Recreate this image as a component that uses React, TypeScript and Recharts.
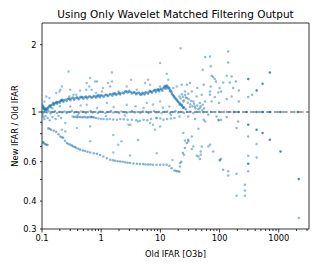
import React from 'react';
import { ScatterChart, Scatter, XAxis, YAxis, ReferenceLine, ReferenceArea } from 'recharts';

type P = [number, number];

const upperBand: P[] = [
  [0.101, 1.08], [0.102, 1.06], [0.104, 1.05], [0.106, 1.04], [0.108, 1.035], [0.11, 1.03], [0.113, 1.025],
  [0.116, 1.02], [0.12, 1.03], [0.124, 1.04], [0.128, 1.05], [0.133, 1.06], [0.138, 1.065], [0.144, 1.075],
  [0.15, 1.08], [0.157, 1.09], [0.165, 1.095], [0.173, 1.1], [0.182, 1.105], [0.19, 1.11], [0.2, 1.115],
  [0.21, 1.12], [0.22, 1.125], [0.235, 1.13], [0.25, 1.135], [0.27, 1.14], [0.29, 1.145], [0.31, 1.147],
  [0.34, 1.15], [0.37, 1.152], [0.4, 1.155], [0.44, 1.158], [0.48, 1.16], [0.52, 1.163], [0.56, 1.165],
  [0.61, 1.167], [0.67, 1.168], [0.73, 1.17], [0.8, 1.172], [0.88, 1.175], [0.96, 1.178], [1.05, 1.182],
  [1.15, 1.186], [1.26, 1.19], [1.38, 1.195], [1.5, 1.198], [1.65, 1.2], [1.8, 1.204], [1.95, 1.208],
  [2.1, 1.212], [2.3, 1.22], [2.5, 1.23], [2.7, 1.236], [2.95, 1.232], [3.2, 1.225], [3.5, 1.22],
  [3.8, 1.216], [4.1, 1.213], [4.5, 1.21], [4.9, 1.207], [5.3, 1.21], [5.8, 1.218], [6.3, 1.225],
  [6.9, 1.233], [7.5, 1.24], [8.2, 1.247], [8.9, 1.25], [9.6, 1.255], [10.4, 1.262], [11.2, 1.275],
  [12, 1.29], [12.8, 1.3], [13.5, 1.29], [14.2, 1.27], [14.8, 1.25], [15.5, 1.22], [16.3, 1.19],
  [17, 1.17], [18, 1.15], [19, 1.13], [20, 1.11], [21.5, 1.09], [23, 1.07], [25, 1.05], [27, 1.03],
];

const bandInner: P[] = [
  [0.105, 1.06], [0.112, 1.04], [0.125, 1.025], [0.14, 1.05], [0.16, 1.075], [0.18, 1.09], [0.2, 1.1],
  [0.23, 1.11], [0.26, 1.12], [0.3, 1.13], [0.35, 1.135], [0.42, 1.14], [0.5, 1.145], [0.58, 1.15],
  [0.7, 1.155], [0.82, 1.158], [0.95, 1.162], [1.1, 1.168], [1.3, 1.175], [1.55, 1.182], [1.8, 1.19],
  [2.1, 1.197], [2.4, 1.21], [2.8, 1.218], [3.3, 1.21], [3.9, 1.2], [4.6, 1.195], [5.4, 1.197],
  [6.2, 1.208], [7.2, 1.218], [8.4, 1.23], [9.5, 1.238], [10.8, 1.245], [12.2, 1.27], [13.2, 1.275],
  [14.5, 1.24], [15.8, 1.2], [17.5, 1.16], [19.5, 1.12], [22, 1.08], [24.5, 1.045],
  [0.22, 1.135], [0.45, 1.17], [0.9, 1.19], [1.7, 1.215], [3.0, 1.245], [6.6, 1.245], [9, 1.265],
  [11.8, 1.31], [13, 1.315],
];

const bandOuter: P[] = [
  [0.118, 1.035], [0.135, 1.07], [0.155, 1.1], [0.175, 1.11], [0.21, 1.13], [0.28, 1.15], [0.33, 1.16],
  [0.39, 1.163], [0.47, 1.168], [0.55, 1.172], [0.64, 1.176], [0.76, 1.18], [0.86, 1.183], [1.0, 1.188],
  [1.2, 1.195], [1.42, 1.203], [1.6, 1.21], [2.0, 1.22], [2.6, 1.24], [3.6, 1.228], [4.3, 1.222],
  [5.0, 1.218], [5.6, 1.225], [6.8, 1.238], [7.9, 1.252], [9.3, 1.262], [10.2, 1.272], [11.5, 1.29],
  [12.5, 1.305], [14, 1.285], [15.2, 1.235], [16.8, 1.18], [18.6, 1.14], [20.8, 1.1], [23.5, 1.06],
];

const unityRow: P[] = [
  [0.1, 1.0], [0.105, 0.99], [0.11, 1.01], [0.12, 0.995], [0.13, 1.005], [0.14, 0.985], [0.15, 1.0],
  [0.165, 1.01], [0.18, 0.99], [0.2, 1.0], [0.22, 0.995], [0.24, 1.005], [0.26, 0.99], [0.29, 1.0],
  [0.32, 1.01], [0.35, 0.995], [0.38, 1.0], [0.42, 0.99], [0.46, 1.005], [0.5, 1.0], [0.55, 0.99],
  [0.6, 1.0], [0.66, 1.01], [0.72, 0.995], [0.8, 1.0], [0.88, 0.99], [0.97, 1.005], [1.07, 1.0],
  [1.18, 0.99], [1.3, 1.0], [1.45, 1.01], [1.6, 0.995], [1.8, 1.0], [2.0, 0.99], [2.2, 1.005],
  [2.45, 1.0], [2.7, 0.99], [3.0, 1.0], [3.3, 1.01], [3.7, 0.995], [4.1, 1.0], [4.6, 0.99],
  [5.1, 1.005], [5.7, 1.0], [6.3, 0.99], [7.0, 1.0], [7.8, 1.01], [8.6, 0.995], [9.5, 1.0],
  [10.5, 0.99], [11.7, 1.0], [13, 1.005], [14.5, 0.99], [16, 1.0], [18, 1.01], [20, 0.995], [22, 1.0],
  [25, 0.99], [28, 1.0], [32, 1.005], [36, 0.99], [41, 1.0], [47, 1.0], [54, 1.0], [62, 1.0],
  [72, 1.0], [85, 1.0], [100, 1.0], [120, 1.0], [145, 1.0],
];

const unityDark: P[] = [
  [175, 1.0], [210, 1.0], [285, 1.0], [423, 1.0], [540, 1.0], [708, 1.0], [1072, 1.0], [2100, 1.0],
];

const lowerStrip: P[] = [
  [0.33, 0.955], [0.35, 0.95], [0.37, 0.952], [0.39, 0.948], [0.41, 0.95], [0.44, 0.95], [0.47, 0.948],
  [0.5, 0.947], [0.53, 0.95], [0.57, 0.946], [0.6, 0.948], [0.64, 0.95], [0.68, 0.95], [0.72, 0.948],
  [0.76, 0.945], [0.82, 0.94], [0.9, 0.935], [1.0, 0.93], [1.1, 0.93], [1.25, 0.928], [1.4, 0.93],
  [1.6, 0.926], [1.85, 0.924], [2.1, 0.93], [2.4, 0.928], [2.8, 0.924], [3.3, 0.924], [3.9, 0.92],
  [4.5, 0.915], [5.2, 0.924], [6.0, 0.92], [7.0, 0.93], [8.5, 0.94], [10, 0.935], [11.3, 0.924],
  [13, 0.93], [15, 0.935], [17.3, 0.94],
  [0.102, 0.97], [0.106, 0.95], [0.11, 0.93], [0.115, 0.96], [0.125, 0.94], [0.135, 0.92], [0.15, 0.95],
  [0.17, 0.93], [0.19, 0.96], [0.21, 0.94],
];

const lowerCurve: P[] = [
  [0.101, 0.737], [0.103, 0.733], [0.105, 0.73], [0.109, 0.724], [0.114, 0.718], [0.119, 0.714],
  [0.124, 0.712], [0.128, 0.846], [0.135, 0.84], [0.143, 0.833], [0.158, 0.825], [0.174, 0.816],
  [0.19, 0.795], [0.204, 0.778], [0.216, 0.772], [0.228, 0.767], [0.245, 0.745], [0.264, 0.727],
  [0.28, 0.72], [0.3, 0.714], [0.32, 0.708], [0.337, 0.702], [0.36, 0.697], [0.378, 0.693],
  [0.41, 0.685], [0.442, 0.678], [0.49, 0.673], [0.536, 0.669], [0.59, 0.665], [0.652, 0.66],
  [0.75, 0.655], [0.85, 0.651], [0.96, 0.642], [1.09, 0.633], [1.25, 0.622], [1.42, 0.612],
  [1.58, 0.608], [1.72, 0.606], [1.9, 0.603], [2.09, 0.601], [2.3, 0.599], [2.54, 0.597], [2.8, 0.594],
  [3.08, 0.592], [3.5, 0.589], [4.0, 0.587], [4.5, 0.586], [5.1, 0.585], [5.6, 0.583], [6.2, 0.582],
  [6.8, 0.582], [7.5, 0.581], [8.6, 0.581], [9.9, 0.581], [11.3, 0.581], [12.8, 0.581], [14.2, 0.575],
  [15.5, 0.56], [17.3, 0.548], [18.5, 0.545], [19.8, 0.543], [21, 0.541], [22.5, 0.6], [24, 0.656],
  [26, 0.69], [28, 0.727], [29.6, 0.752],
];

const midScatter: P[] = [
  [0.652, 0.862], [0.39, 0.848], [1.6, 0.79], [0.65, 0.74], [2.2, 0.74], [1.94, 0.714], [4.2, 0.75],
  [1.6, 0.66], [3.08, 0.64], [8.7, 0.655], [16, 0.61], [3.1, 0.877], [7.5, 0.877], [8.1, 0.833],
  [0.217, 0.833], [0.247, 0.82], [9.9, 0.862], [2.9, 0.877], [0.247, 0.893], [0.69, 0.95], [6.7, 0.893],
  [8.7, 0.94], [4.2, 0.908], [1.2, 0.96], [2.5, 0.965], [15, 0.97], [0.4, 0.97],
];

const aboveScatter: P[] = [
  [0.281, 1.519], [1.52, 1.503], [9.9, 1.656], [12.8, 1.483], [13.6, 1.394], [6.2, 1.394], [5.5, 1.348],
  [3.2, 1.394], [2.7, 1.302], [1.52, 1.37], [1.42, 1.302], [0.79, 1.37], [0.57, 1.348], [0.69, 1.258],
  [0.44, 1.249], [0.3, 1.258], [0.217, 1.302], [0.204, 1.258], [0.34, 1.195], [1.03, 1.236],
  [1.96, 1.236], [4.0, 1.258], [4.8, 1.195], [8.1, 1.258], [16.6, 1.28], [18.9, 1.302], [6.7, 1.325],
  [9.9, 1.302], [0.65, 1.419], [0.85, 1.37], [0.198, 1.236], [0.174, 1.216], [0.56, 1.258], [0.63, 1.302],
  [1.07, 1.28], [1.3, 1.348], [0.38, 1.195], [0.29, 1.174], [0.118, 1.174], [0.11, 1.115], [0.134, 1.155],
  [0.82, 1.216], [22, 1.93],
  [0.3, 1.059], [0.57, 1.078], [1.25, 1.097], [2.7, 1.078], [5.9, 1.097], [9.9, 1.115], [14.2, 1.059],
  [5.2, 1.042], [1.62, 1.053], [0.85, 1.042], [0.15, 1.04], [0.2, 1.06], [0.45, 1.07], [3.8, 1.06],
  [7.5, 1.08], [11, 1.045],
];

const rightCluster: P[] = [
  [21, 1.174], [21, 1.078], [23, 1.325], [24.4, 1.115], [23, 1.078], [24.4, 1.042], [26, 1.236], [28, 1.325],
  [28, 1.155], [29.6, 1.207], [31.6, 1.348], [31.6, 1.053], [34, 1.236], [36, 1.115], [38.5, 1.059],
  [41, 1.174], [42, 1.28], [46.5, 1.097], [46.5, 1.042], [22, 1.15], [23, 1.2], [24, 1.17], [25, 1.13],
  [26, 1.19], [27, 1.16], [29, 1.1], [30, 1.14], [32, 1.08], [33, 1.12], [35, 1.06], [37, 1.09], [39, 1.04],
  [42, 1.07], [44, 1.03], [48, 1.06], [51, 1.02], [55, 1.04], [29.6, 0.956], [38.5, 0.93], [54, 0.924],
  [64.5, 0.973], [89, 0.956], [95, 0.924], [106, 0.924], [206, 0.908], [21, 0.956],
];

const rightFan: P[] = [
  [50, 1.195], [52, 1.078], [52, 1.546], [54, 1.325], [57, 1.115], [57, 1.76], [69, 1.77], [71, 1.6],
  [69, 1.236], [69, 1.195], [71, 1.302], [73.5, 1.453], [73.5, 1.115], [78, 1.434], [83, 1.405],
  [83, 1.167], [87, 1.37], [95, 1.224], [98, 1.097], [100, 1.28], [106, 1.236], [115, 1.356], [132, 1.143],
  [132, 1.453], [140, 1.866], [140, 1.666], [149, 1.356], [160, 1.443], [160, 1.174], [170, 1.28],
  [189, 1.37], [212, 1.249], [212, 1.115], [305, 1.167], [356, 1.195],
];

const rightBelow: P[] = [
  [21.5, 0.592], [21.5, 0.571], [25, 0.644], [26, 0.746], [29.6, 0.74], [34, 0.778], [34, 0.683],
  [36, 0.702], [41, 0.638], [44, 0.633], [44, 0.842], [46.5, 0.617], [48, 0.666], [48, 0.644], [50, 0.702],
  [57, 0.908], [64.5, 0.702], [69, 0.714], [78, 0.666], [98, 0.917], [101, 0.612], [101, 0.607],
  [106, 0.617], [115, 0.552], [132, 0.95], [140, 0.543], [140, 0.52], [194, 0.53], [194, 0.848],
  [194, 0.422], [268, 0.473], [268, 0.446], [268, 0.422], [24.4, 0.806], [305, 0.778], [423, 0.719],
  [305, 0.638], [305, 0.543], [423, 0.627], [2180, 0.336],
];

const rightDark: P[] = [
  [305, 1.405], [423, 1.249], [533, 1.339], [708, 1.503], [305, 0.877], [423, 0.833], [533, 0.806],
  [708, 0.752], [1072, 0.666], [305, 0.587], [2180, 0.502],
];

const xTicks = [
  0.1, 0.2, 0.3, 0.4, 0.5, 0.6, 0.7, 0.8, 0.9, 1, 2, 3, 4, 5, 6, 7, 8, 9, 10, 20, 30, 40, 50, 60, 70, 80, 90,
  100, 200, 300, 400, 500, 600, 700, 800, 900, 1000, 2000, 3000,
];
const xLabels = [0.1, 1, 10, 100, 1000];
const yTicks = [0.3, 0.4, 0.5, 0.6, 0.7, 0.8, 0.9, 1, 2];
const yLabels = [0.3, 0.4, 0.6, 1, 2];

const toObj = (arr: P[]) => arr.map(([x, y]) => ({ x, y }));

const FONT = 'DejaVu Sans, sans-serif';

const dot = (opacity: number) => (props: any) => (
  <circle cx={props.cx} cy={props.cy} r={1.25} fill="#1f77b4" fillOpacity={opacity} />
);

const XTick = (props: any) => {
  const { x, y, payload } = props;
  const major = xLabels.includes(payload.value);
  return (
    <g>
      <line x1={x} y1={y} x2={x} y2={y + (major ? 3.5 : 2)} stroke="#000" strokeWidth={0.8} />
      {major && (
        <text x={x} y={y + 11.5} textAnchor="middle" fontSize={8.3} fontFamily={FONT} fill="#000">
          {payload.value}
        </text>
      )}
    </g>
  );
};

const YTick = (props: any) => {
  const { x, y, payload } = props;
  const labeled = yLabels.includes(payload.value);
  const major = payload.value === 1;
  return (
    <g>
      <line x1={x} y1={y} x2={x - (major ? 3.5 : 2)} y2={y} stroke="#000" strokeWidth={0.8} />
      {labeled && (
        <text x={x - 5.5} y={y + 3} textAnchor="end" fontSize={8.3} fontFamily={FONT} fill="#000">
          {payload.value}
        </text>
      )}
    </g>
  );
};

export default function App() {
  return (
    <div style={{ position: 'absolute', left: 0, top: 0, width: 319, height: 266, background: '#fff' }}>
      <div
        style={{
          position: 'absolute', left: 42, top: 8, width: 267, lineHeight: '12px', textAlign: 'center',
          fontFamily: FONT, fontSize: 10.5, color: '#000',
        }}
      >
        Using Only Wavelet Matched Filtering Output
      </div>
      <ScatterChart width={319} height={266} margin={{ top: 23, right: 10, bottom: 0, left: 0 }}>
        <XAxis
          type="number"
          dataKey="x"
          scale="log"
          domain={[0.1, 3245]}
          allowDataOverflow
          ticks={xTicks}
          interval={0}
          axisLine={false}
          tickLine={false}
          tickSize={0}
          tickMargin={0}
          height={37}
          tick={<XTick />}
          label={{ value: 'Old IFAR [O3b]', position: 'insideBottom', offset: 9, fontSize: 8.3, fontFamily: FONT, fill: '#000' }}
        />
        <YAxis
          type="number"
          dataKey="y"
          scale="log"
          domain={[0.3, 2.5]}
          allowDataOverflow
          ticks={yTicks}
          interval={0}
          axisLine={false}
          tickLine={false}
          tickSize={0}
          tickMargin={0}
          width={42}
          tick={<YTick />}
          label={{
            value: 'New IFAR / Old IFAR', angle: -90, position: 'insideLeft', offset: 15,
            fontSize: 8.3, fontFamily: FONT, fill: '#000', style: { textAnchor: 'middle' },
          }}
        />
        <Scatter data={toObj(upperBand)} shape={dot(0.6)} isAnimationActive={false} />
        <Scatter data={toObj(bandInner)} shape={dot(0.6)} isAnimationActive={false} />
        <Scatter data={toObj(bandOuter)} shape={dot(0.6)} isAnimationActive={false} />
        <Scatter data={toObj(unityRow)} shape={dot(0.5)} isAnimationActive={false} />
        <Scatter data={toObj(lowerStrip)} shape={dot(0.5)} isAnimationActive={false} />
        <Scatter data={toObj(lowerCurve)} shape={dot(0.55)} isAnimationActive={false} />
        <Scatter data={toObj(midScatter)} shape={dot(0.45)} isAnimationActive={false} />
        <Scatter data={toObj(aboveScatter)} shape={dot(0.45)} isAnimationActive={false} />
        <Scatter data={toObj(rightCluster)} shape={dot(0.5)} isAnimationActive={false} />
        <Scatter data={toObj(rightFan)} shape={dot(0.5)} isAnimationActive={false} />
        <Scatter data={toObj(rightBelow)} shape={dot(0.5)} isAnimationActive={false} />
        <Scatter data={toObj(rightDark)} shape={dot(0.85)} isAnimationActive={false} />
        <ReferenceLine y={1} stroke="#444" strokeOpacity={0.65} strokeWidth={1.6} strokeDasharray="5.5 2.5" />
        <Scatter data={toObj(unityDark)} shape={dot(0.9)} isAnimationActive={false} />
        <ReferenceArea x1={0.1} x2={3245} y1={0.3} y2={2.5} fill="none" stroke="#000" strokeWidth={0.8} ifOverflow="visible" />
      </ScatterChart>
    </div>
  );
}
